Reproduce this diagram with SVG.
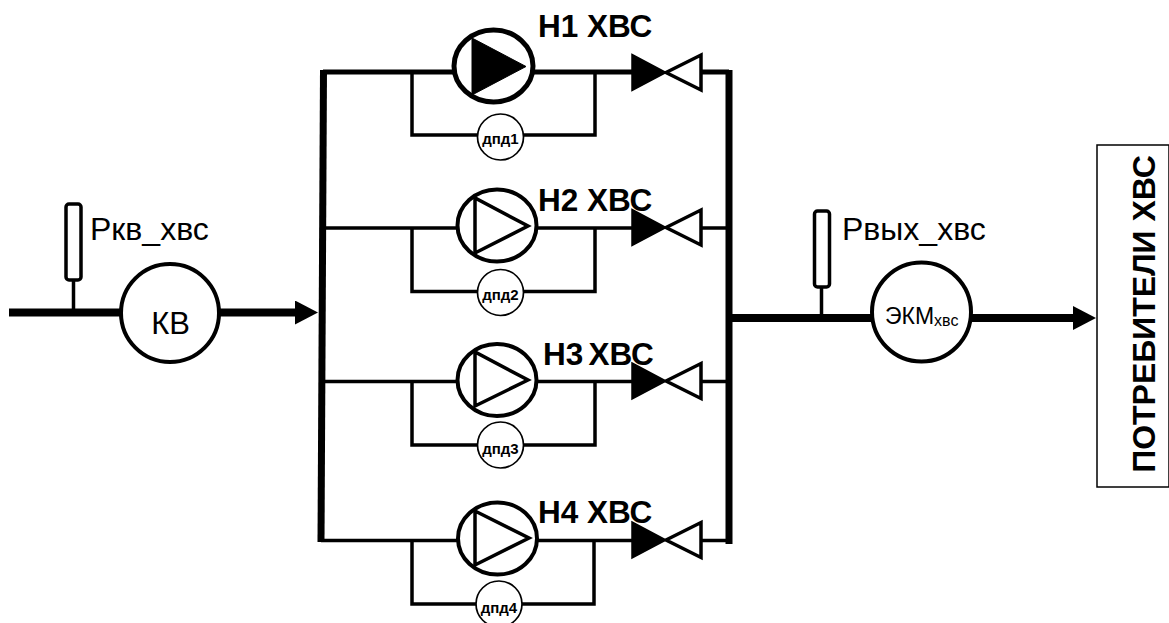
<svg xmlns="http://www.w3.org/2000/svg" width="1169" height="623" viewBox="0 0 1169 623">
<style>
text{font-family:"Liberation Sans",Arial,sans-serif;fill:#000}
.w{fill:#fff;stroke:#000}
.p{stroke-width:5}
.g{stroke-width:3.5}
.d{stroke-width:1.7}
.e{stroke-width:4}
.b{font-weight:700}
.h{font-size:31.500px;font-weight:700}
.dt{font-size:15px;font-weight:700;text-anchor:middle}
</style>
<defs>
<marker id="ah" markerUnits="userSpaceOnUse" markerWidth="24" markerHeight="24" refX="23" refY="12" orient="auto"><path d="M0 0L23 12L0 24Z" fill="#000"/></marker>
<g id="valve"><path d="M632 -18L666 0L632 18Z" fill="#000" stroke="#000" stroke-width="1.5"/><path d="M666 0L701 -17.500V17.500Z" fill="#fff" stroke="#000" stroke-width="3.500"/></g>
</defs>
<g id="connectors" fill="none" stroke="#000" stroke-linejoin="miter">
<path d="M9 312.500H120" stroke-width="8"/>
<path d="M220 312.500H296" stroke-width="8"/>
<path d="M295 312.500H318" stroke="none" marker-end="url(#ah)"/>
<path d="M73.500 280V310" stroke-width="3.500"/>
<path d="M323.500 70L321 542" stroke-width="7"/>
<path d="M729 70V544" stroke-width="7"/>
<path d="M323 72H632M701 72H729" stroke-width="5"/>
<path d="M321 228H632M701 228H729" stroke-width="3.300"/>
<path d="M321 381.500H632M701 381.500H729" stroke-width="3.500"/>
<path d="M321 540.500H632M701 540.500H729" stroke-width="3.500"/>
<path d="M412 72V135H595V72" stroke-width="3.500"/>
<path d="M412 228V291.500H595V228" stroke-width="3.500"/>
<path d="M412 381.500V445H595V381.500" stroke-width="3.500"/>
<path d="M412 540.500V604H594V540.500" stroke-width="3.500"/>
<path d="M732 318H872" stroke-width="8"/>
<path d="M972 318H1074" stroke-width="8"/>
<path d="M1073 318H1096" stroke="none" marker-end="url(#ah)"/>
<path d="M821.500 287V316" stroke-width="3.500"/>
</g>
<g id="sensor-kv"><rect class="w g" x="66" y="204" width="15" height="76" rx="3"/><text x="90" y="240" font-size="32">Ркв_хвс</text></g>
<g id="kv"><circle class="w e" cx="170" cy="313" r="49"/><text x="170.500" y="334" font-size="31" text-anchor="middle">КВ</text></g>
<g id="pump1"><ellipse class="w p" cx="493.500" cy="66" rx="39.500" ry="36"/><path d="M472 38V95L526 66.500Z" fill="#000" stroke="#000"/></g>
<g id="pump2"><ellipse class="w e" cx="497" cy="225.500" rx="39.500" ry="36"/><path class="w g" d="M475 198V253L528 226Z"/></g>
<g id="pump3"><ellipse class="w e" cx="497" cy="380" rx="39.500" ry="36"/><path class="w g" d="M475 352V406L528 380Z"/></g>
<g id="pump4"><ellipse class="w e" cx="497.500" cy="538.500" rx="39.500" ry="36"/><path class="w g" d="M475 511V565L529 538Z"/></g>
<g id="valve1"><use href="#valve" y="72.500"/></g>
<g id="valve2"><use href="#valve" y="227.500"/></g>
<g id="valve3"><use href="#valve" y="381"/></g>
<g id="valve4"><use href="#valve" y="540"/></g>
<g id="label1"><text class="h" x="538" y="37">Н1 ХВС</text></g>
<g id="label2"><text class="h" x="538" y="210.500">Н2 ХВС</text></g>
<g id="label3"><text class="h" x="543" y="365" word-spacing="-3.500">Н3 ХВС</text></g>
<g id="label4"><text class="h" x="538" y="523">Н4 ХВС</text></g>
<g id="dpd1"><circle class="w d" cx="500.500" cy="137" r="23"/><text class="dt" x="500.500" y="144">дпд1</text></g>
<g id="dpd2"><circle class="w d" cx="500.500" cy="292.500" r="23"/><text class="dt" x="500.500" y="300">дпд2</text></g>
<g id="dpd3"><circle class="w d" cx="500.500" cy="445" r="23"/><text class="dt" x="500.500" y="454">дпд3</text></g>
<g id="dpd4"><circle class="w d" cx="499" cy="604" r="23"/><text class="dt" x="499" y="612.500">дпд4</text></g>
<g id="sensor-out"><rect class="w g" x="814.500" y="211" width="15" height="76" rx="3"/><text x="842" y="240" font-size="32">Рвых_хвс</text></g>
<g id="ekm"><circle class="w e" cx="921.500" cy="312" r="49.500"/><text x="885" y="324" font-size="23">ЭКМ<tspan font-size="16" dy="2">хвс</tspan></text></g>
<g id="consumers"><rect x="1097" y="145" width="72" height="342" fill="#fff" stroke="#000" stroke-width="1.500"/><text class="b" font-size="32" text-anchor="middle" transform="translate(1155 314) rotate(-90)">ПОТРЕБИТЕЛИ ХВС</text></g>
</svg>
